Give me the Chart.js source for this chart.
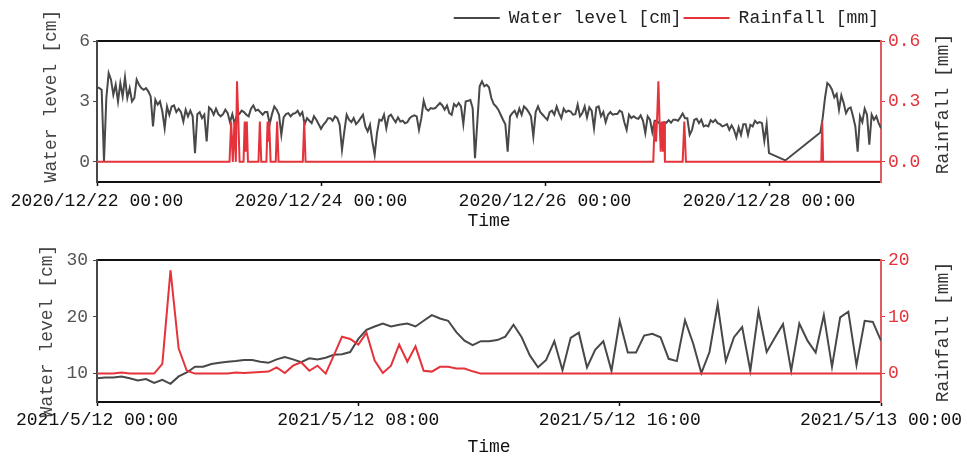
<!DOCTYPE html>
<html>
<head>
<meta charset="utf-8">
<title>Water level and rainfall</title>
<script src="https://cdn.jsdelivr.net/npm/chart.js@4.4.1/dist/chart.umd.min.js"></script>
<style>
  html, body { margin: 0; padding: 0; background: #fff; }
  #wrap { position: relative; width: 967px; height: 460px; }
  .panel { position: absolute; left: 0; width: 967px; height: 230px; }
  #top { top: 0; }
  #bottom { top: 230px; }
</style>
</head>
<body>
<div id="wrap">
  <div class="panel" id="top"><canvas id="canvasTop" width="967" height="230"></canvas></div>
  <div class="panel" id="bottom"><canvas id="canvasBottom" width="967" height="230"></canvas></div>
</div>
<script>
// ---- data: 2020/12/22 - 2020/12/29, water level every 30 min (null = no record)
var topStepHours = 0.5;
var topLevel = [
  3.71, 3.66, 3.58, 0.02, 3.17, 4.41, 4.08, 3.33, 3.83, 3.0, 3.91, 3.25,
  4.2, 3.17, 3.66, 3.0, 3.17, 4.08, 3.83, 3.66, 3.58, 3.66, 3.5, 3.25,
  1.76, 3.08, 2.84, 3.0, 2.5, 1.67, 2.75, 2.34, 2.75, 2.8, 2.47, 2.64,
  2.47, 2.0, 2.59, 2.26, 2.54, 2.26, 0.43, 2.37, 2.47, 2.17, 2.34, 1.01,
  2.7, 2.59, 2.34, 2.64, 2.37, 2.26, 2.37, 2.59, 2.42, 1.97, 2.37, 1.87,
  2.37, 2.37, 2.54, 2.47, 2.34, 2.26, 2.64, 2.8, 2.54, 2.59, 2.47, 2.34,
  2.47, 2.47, 1.87, 2.37, 2.75, 2.59, 2.34, 1.34, 2.21, 2.37, 2.42, 2.26,
  2.39, 2.42, 2.54, 2.31, 2.47, 1.87, 2.17, 2.04, 1.92, 2.26, 2.09, 1.87,
  1.64, 1.84, 1.97, 2.17, 2.17, 2.04, 2.26, 2.17, 1.84, 0.6, 1.51, 2.34,
  2.09, 1.97, 2.17, 1.87, 2.0, 2.17, 2.34, 1.76, 1.51, 1.84, 1.01, 0.35,
  1.43, 2.09, 2.04, 2.34, 1.67, 2.26, 2.34, 2.14, 1.97, 2.21, 2.0, 2.04,
  1.92, 1.97, 2.17, 2.26, 2.31, 2.26, 1.59, 2.17, 3.03, 2.64, 2.54, 2.67,
  2.64, 2.67, 2.8, 2.92, 2.8, 2.59, 2.8, 2.42, 2.34, 2.87, 2.75, 2.92,
  2.75, 1.87, 3.0, 3.03, 3.07, 2.67, 0.18, 2.0, 3.75, 4.0, 3.75, 3.83,
  3.7, 3.17, 2.87, 2.75, 2.59, 2.34, 2.09, 1.87, 0.51, 2.26, 2.42, 2.54,
  2.26, 2.64, 2.34, 2.75, 2.64, 2.47, 2.26, 1.26, 2.47, 2.75, 2.47, 2.34,
  2.21, 2.09, 2.47, 2.54, 2.34, 2.75, 2.42, 2.17, 2.64, 2.47, 2.54, 2.5,
  2.34, 2.37, 2.84, 2.26, 2.42, 2.75, 2.21, 2.7, 2.54, 1.67, 2.7, 2.75,
  2.26, 2.47, 1.97, 2.34, 2.47, 2.34, 2.37, 2.37, 2.54, 2.47, 1.97, 1.59,
  2.34, 2.17, 2.26, 2.17, 2.14, 2.31, 2.04, 1.43, 2.26, 2.09, 1.48, 2.04,
  2.04, 1.92, 1.87, 1.97, 1.94, 2.07, 1.94, 2.09, 2.09, 2.04, 2.21, 2.4,
  2.17, 2.17, 1.34, 1.59, 2.09, 2.14, 1.92, 2.09, 1.76, 1.81, 1.76, 2.07,
  1.97, 2.09, 1.92, 1.87, 1.76, 1.81, 1.87, 1.59, 1.81, 1.59, 1.21, 1.71,
  1.34, 1.87, 1.87, 1.34, 1.84, 1.76, 2.04, 1.92, 1.97, 1.92, 1.04, 1.87,
  0.43, null, null, null, null, null, null, 0.07, null, null, null, null,
  null, null, null, null, null, null, null, null, null, null, 1.46, 2.17,
  3.17, 3.91, 3.8, 3.58, 3.2, 3.37, 2.59, 3.3, 2.92, 2.42, 2.64, 2.7,
  2.26, 1.76, 0.51, 2.26, 1.97, 2.64, 2.34, 0.85, 2.34, 2.09, 2.26, 1.92,
  1.67
];
// rainfall line vertices (hours from 2020/12/22 00:00, mm)
var topRainHours = [0, 28.4, 28.75, 29.1, 29.45, 29.75, 30.0, 30.3, 30.55,
  31.4, 31.65, 31.85, 32.1, 32.35, 34.6, 34.9, 35.2, 36.3, 36.55, 36.75, 36.9, 37.2,
  38.3, 38.6, 38.9, 44.1, 44.4, 44.7,
  119.2, 119.5, 119.8, 120.0, 120.3, 120.55, 120.8, 121.05, 121.3, 121.5, 121.7,
  125.5, 125.85, 126.2, 155.2, 155.4, 155.6, 168];
var topRain = [0, 0, 0.2, 0, 0.2, 0, 0.4, 0.2, 0,
  0, 0.2, 0.05, 0.2, 0, 0, 0.2, 0, 0, 0.2, 0.1, 0.2, 0,
  0, 0.2, 0, 0, 0.2, 0,
  0, 0.2, 0.1, 0.2, 0.4, 0.2, 0.05, 0.2, 0.05, 0.2, 0,
  0, 0.2, 0, 0, 0.2, 0, 0];
var topTickHours = [0, 48, 96, 144];
var topTickLabels = ['2020/12/22 00:00', '2020/12/24 00:00', '2020/12/26 00:00', '2020/12/28 00:00'];
var topLevelTicks = [0, 3, 6];
var topRainTicks = [0, 0.3, 0.6];

// ---- data: 2021/5/12, every 15 min
var bottomStepHours = 0.25;
var bottomLevel = [
  9.17, 9.3, 9.3, 9.47, 9.17, 8.8, 9.05, 8.35, 8.9, 8.2, 9.5, 10.2,
  11.2, 11.2, 11.7, 11.9, 12.1, 12.2, 12.4, 12.4, 12.1, 11.9, 12.5, 12.9,
  12.5, 12.0, 12.7, 12.5, 12.8, 13.3, 13.4, 13.8, 16.1, 17.7, 18.3, 18.8,
  18.3, 18.6, 18.8, 18.3, 19.3, 20.3, 19.7, 19.3, 17.3, 15.8, 15.0, 15.7,
  15.7, 15.9, 16.5, 18.6, 16.4, 13.2, 11.1, 12.4, 15.7, 10.6, 16.3, 17.2,
  11.1, 14.2, 15.7, 10.5, 19.3, 13.7, 13.7, 16.7, 17.0, 16.4, 12.6, 12.2,
  19.4, 15.3, 10.1, 13.8, 22.2, 12.2, 16.4, 18.2, 10.5, 21.0, 13.8, 16.3,
  18.7, 10.5, 18.8, 15.8, 13.7, 20.3, 11.2, 19.9, 20.9, 11.5, 19.3, 19.1,
  15.8
];
var bottomRain = [
  0, 0, 0, 0.2, 0, 0, 0, 0, 1.7, 18.2, 4.4, 0.5,
  0, 0, 0, 0, 0, 0.2, 0.1, 0.2, 0.3, 0.35, 1.1, 0.1,
  1.4, 2.0, 0.5, 1.4, 0, 3.2, 6.5, 6.1, 5.1, 7.2, 2.3, 0.1,
  1.4, 5.1, 2.1, 4.8, 0.5, 0.35, 1.2, 1.2, 0.9, 0.9, 0.4, 0,
  0, 0, 0, 0, 0, 0, 0, 0, 0, 0, 0, 0,
  0, 0, 0, 0, 0, 0, 0, 0, 0, 0, 0, 0,
  0, 0, 0, 0, 0, 0, 0, 0, 0, 0, 0, 0,
  0, 0, 0, 0, 0, 0, 0, 0, 0, 0, 0, 0,
  0
];
var bottomTickHours = [0, 8, 16, 24];
var bottomTickLabels = ['2021/5/12 00:00', '2021/5/12 08:00', '2021/5/12 16:00', '2021/5/13 00:00'];
var bottomLevelTicks = [10, 20, 30];
var bottomRainTicks = [0, 10, 20];

var FONT = '"Liberation Mono", "DejaVu Sans Mono", monospace';
var GRAY = '#484848';
var RED = '#e5333b';

function fixedTicks(values) {
    return function (scale) {
        scale.ticks = values.map(function (v) { return { value: v }; });
    };
}
function fixedWidth(w) { return function (scale) { scale.width = w; }; }
function fixedHeight(h) { return function (scale) { scale.height = h; }; }
function labelFor(hours, labels) {
    return function (v) { return labels[hours.indexOf(v)]; };
}

// vertical axis titles, both read bottom-to-top like the original
var sideTitles = {
    id: 'sideTitles',
    afterDraw: function (chart, args, opts) {
        var ctx = chart.ctx;
        opts.items.forEach(function (t) {
            ctx.save();
            ctx.translate(t.x, t.y);
            ctx.rotate(-Math.PI / 2);
            ctx.font = '18px ' + FONT;
            ctx.fillStyle = t.color;
            ctx.textAlign = 'center';
            ctx.textBaseline = 'middle';
            ctx.fillText(t.text, 0, 0);
            ctx.restore();
        });
    }
};

function makeScales(cfg) {
    return {
        x: {
            type: 'linear', position: 'bottom', min: cfg.xMin, max: cfg.xMax,
            afterBuildTicks: fixedTicks(cfg.tickHours),
            afterFit: fixedHeight(cfg.xHeight),
            grid: { drawOnChartArea: false, tickLength: 4, tickColor: '#111', tickWidth: 1.5 },
            border: { color: '#111', width: 2 },
            ticks: {
                color: '#111', padding: cfg.xPad, maxRotation: 0, autoSkip: false,
                font: { family: FONT, size: 18 },
                callback: labelFor(cfg.tickHours, cfg.tickLabels)
            },
            title: {
                display: true, text: 'Time', color: '#111',
                font: { family: FONT, size: 18, lineHeight: 1 },
                padding: { top: 0, bottom: cfg.timePad }
            }
        },
        xTop: {
            type: 'linear', position: 'top', min: cfg.xMin, max: cfg.xMax,
            afterFit: fixedHeight(cfg.topGap),
            grid: { display: false }, ticks: { display: false },
            border: { color: '#111', width: 2 }
        },
        y: {
            position: 'left', min: cfg.yMin, max: cfg.yMax,
            afterBuildTicks: fixedTicks(cfg.yTicks),
            afterFit: fixedWidth(97),
            grid: { drawOnChartArea: false, tickLength: 4, tickColor: GRAY },
            border: { color: GRAY, width: 2 },
            ticks: { color: '#555', padding: cfg.yPad, font: { family: FONT, size: 18 } }
        },
        y1: {
            position: 'right', min: cfg.rMin, max: cfg.rMax,
            afterBuildTicks: fixedTicks(cfg.rTicks),
            afterFit: fixedWidth(86),
            grid: { drawOnChartArea: false, tickLength: 4, tickColor: RED },
            border: { color: '#e25c5f', width: 2 },
            ticks: {
                color: RED, padding: 3, font: { family: FONT, size: 18 },
                callback: function (v) { return v.toFixed(cfg.rDigits); }
            }
        }
    };
}

var topChart = new Chart(document.getElementById('canvasTop'), {
    type: 'line',
    data: {
        datasets: [{
            label: 'Water level [cm]',
            data: topLevel.map(function (v, i) { return { x: i * topStepHours, y: v }; }),
            borderColor: GRAY, borderWidth: 2, pointRadius: 0, spanGaps: true,
            yAxisID: 'y', order: 1
        }, {
            label: 'Rainfall [mm]',
            data: topRainHours.map(function (h, i) { return { x: h, y: topRain[i] }; }),
            borderColor: RED, borderWidth: 2, pointRadius: 0,
            yAxisID: 'y1', order: 0
        }]
    },
    options: {
        responsive: false, animation: false, events: [],
        layout: { padding: { top: 7, left: 0, right: 0, bottom: 0 } },
        plugins: {
            legend: {
                position: 'top', align: 'end', fullSize: false,
                labels: {
                    usePointStyle: true, pointStyle: 'line', pointStyleWidth: 46,
                    padding: 2, color: '#222', font: { family: FONT, size: 18 },
                    sort: function (a, b) { return a.datasetIndex - b.datasetIndex; }
                }
            },
            tooltip: { enabled: false },
            sideTitles: { items: [
                { text: 'Water level [cm]', x: 51, y: 96, color: '#444' },
                { text: 'Rainfall [mm]', x: 943, y: 104, color: '#333' }
            ] }
        },
        scales: makeScales({
            xMin: 0, xMax: 168, tickHours: topTickHours, tickLabels: topTickLabels,
            xHeight: 48, xPad: 4, timePad: 0, topGap: 4,
            yMin: -1, yMax: 6, yTicks: topLevelTicks, yPad: 3,
            rMin: -0.1, rMax: 0.6, rTicks: topRainTicks, rDigits: 1
        })
    },
    plugins: [sideTitles]
});

var bottomChart = new Chart(document.getElementById('canvasBottom'), {
    type: 'line',
    data: {
        datasets: [{
            label: 'Water level [cm]',
            data: bottomLevel.map(function (v, i) { return { x: i * bottomStepHours, y: v }; }),
            borderColor: GRAY, borderWidth: 2, pointRadius: 0,
            yAxisID: 'y', order: 1
        }, {
            label: 'Rainfall [mm]',
            data: bottomRain.map(function (v, i) { return { x: i * bottomStepHours, y: v }; }),
            borderColor: RED, borderWidth: 2, pointRadius: 0,
            yAxisID: 'y1', order: 0
        }]
    },
    options: {
        responsive: false, animation: false, events: [],
        layout: { padding: 0 },
        plugins: {
            legend: { display: false },
            tooltip: { enabled: false },
            sideTitles: { items: [
                { text: 'Water level [cm]', x: 47, y: 101, color: '#444' },
                { text: 'Rainfall [mm]', x: 943, y: 102, color: '#333' }
            ] }
        },
        scales: makeScales({
            xMin: 0, xMax: 24, tickHours: bottomTickHours, tickLabels: bottomTickLabels,
            xHeight: 58, xPad: 3, timePad: 4, topGap: 30,
            yMin: 5, yMax: 30, yTicks: bottomLevelTicks, yPad: 5,
            rMin: -5, rMax: 20, rTicks: bottomRainTicks, rDigits: 0
        })
    },
    plugins: [sideTitles]
});
</script>
</body>
</html>
